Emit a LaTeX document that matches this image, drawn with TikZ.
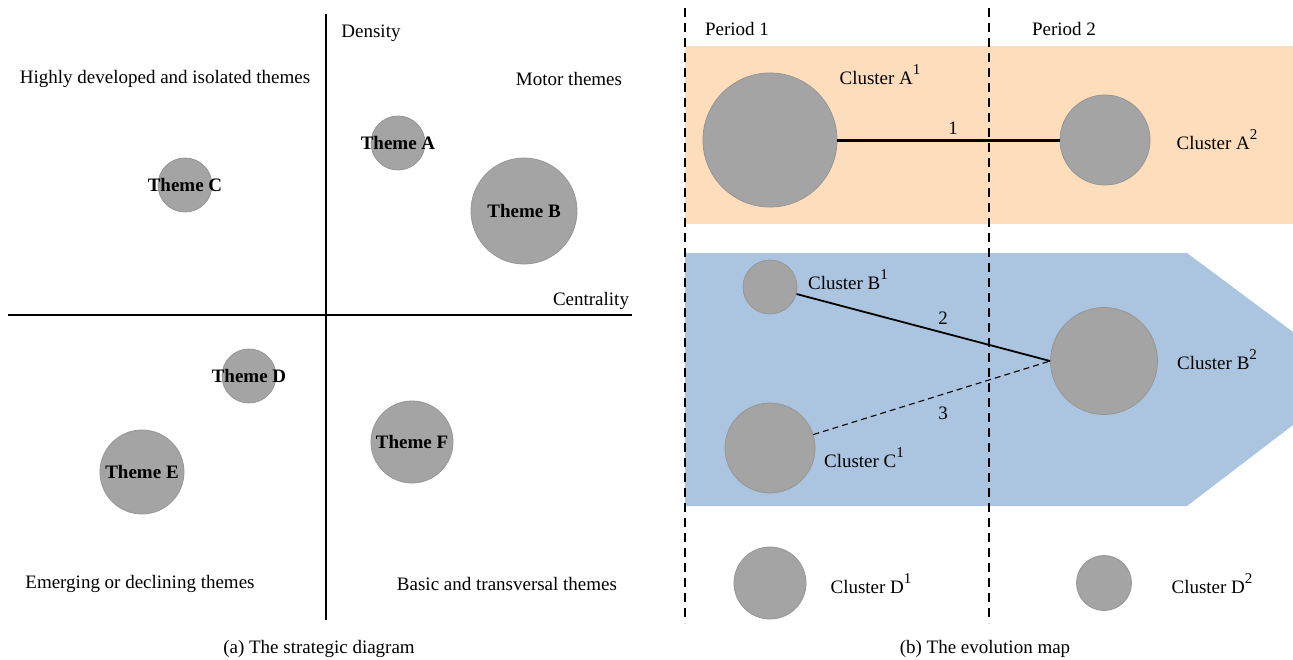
\documentclass[tikz,border=0pt]{standalone}
\usepackage{fontspec}
\setmainfont{Liberation Serif}
\definecolor{peach}{RGB}{253,221,188}
\definecolor{skyb}{RGB}{171,197,225}
\definecolor{bubble}{RGB}{164,164,164}
\definecolor{bubbleline}{RGB}{150,150,150}
\newcommand{\supnum}[1]{\raisebox{0.5em}{\fontsize{15}{15}\selectfont #1}}
\begin{document}
\begin{tikzpicture}[x=1pt,y=-1pt,
  txt/.style={inner sep=0pt,font=\fontsize{19}{22}\selectfont},
  btxt/.style={inner sep=0pt,font=\fontsize{19}{22}\selectfont\bfseries},
  bub/.style={circle,fill=bubble,draw=bubbleline,line width=0.8pt,inner sep=0pt,minimum size=#1},
  axis/.style={line width=1.8pt,black},
  period/.style={line width=1.8pt,dash pattern=on 9pt off 6pt}]
\useasboundingbox (0,0) rectangle (1293,659);
% ---------- (a) strategic diagram ----------
\coordinate (vtop) at (326,14);
\coordinate (vbot) at (326,620);
\coordinate (hl) at (8,315);
\coordinate (hr) at (632,315);
\draw[axis] (vtop) -- (vbot);
\draw[axis] (hl) -- (hr);
\node[txt] (density) at (371,33) {Density};
\node[txt] (centrality) at (591,301) {Centrality};
\node[txt] (q1) at (165,79) {Highly developed and isolated themes};
\node[txt] (q2) at (569,79) {Motor themes};
\node[txt] (q3) at (140,584) {Emerging or declining themes};
\node[txt] (q4) at (507,584) {Basic and transversal themes};
\node[bub=54pt] (tA) at (398,143) {};
\node[btxt] at (tA.center) {Theme A};
\node[bub=106pt] (tB) at (524,211) {};
\node[btxt] at (tB.center) {Theme B};
\node[bub=54pt] (tC) at (185,185) {};
\node[btxt] at (tC.center) {Theme C};
\node[bub=54pt] (tD) at (249,376) {};
\node[btxt] at (tD.center) {Theme D};
\node[bub=84pt] (tE) at (142,472) {};
\node[btxt] at (tE.center) {Theme E};
\node[bub=82pt] (tF) at (412,442) {};
\node[btxt] at (tF.center) {Theme F};
\node[txt] (capa) at (319,649) {(a) The strategic diagram};
% ---------- (b) evolution map ----------
\fill[peach] (685,46) rectangle (1293,224);
\fill[skyb] (685,253) -- (1187,253) -- (1293,332) -- (1293,425) -- (1187,506) -- (685,506) -- cycle;
\coordinate (p1top) at (685,8);
\coordinate (p1bot) at (685,623);
\coordinate (p2top) at (989,8);
\coordinate (p2bot) at (989,623);
\node[txt] (per1) at (737,29) {Period 1};
\node[txt] (per2) at (1064,29) {Period 2};
\node[bub=134pt] (A1) at (770,140) {};
\node[bub=90pt] (A2) at (1105,140) {};
\node[bub=54pt] (B1) at (770,287) {};
\node[bub=107pt] (B2) at (1104,361) {};
\node[bub=90pt] (C1) at (770,448) {};
\node[bub=72pt] (D1) at (770,583) {};
\node[bub=55pt] (D2) at (1104,583) {};
\draw[line width=3pt] (A1) -- (A2);
\draw[line width=1.8pt] (B1) -- (B2.west);
\draw[line width=1.1pt,dash pattern=on 6pt off 4pt] (C1) -- (B2.west);
\draw[period] (p1top) -- (p1bot);
\draw[period] (p2top) -- (p2bot);
\node[txt] (l1) at (953,128) {1};
\node[txt] (l2) at (943,318) {2};
\node[txt] (l3) at (943,413) {3};
\node[txt,anchor=base] (cA1) at (880,84) {Cluster A\supnum{1}};
\node[txt,anchor=base] (cA2) at (1217,149) {Cluster A\supnum{2}};
\node[txt,anchor=base] (cB1) at (848,289) {Cluster B\supnum{1}};
\node[txt,anchor=base] (cB2) at (1217,369) {Cluster B\supnum{2}};
\node[txt,anchor=base] (cC1) at (864,467) {Cluster C\supnum{1}};
\node[txt,anchor=base] (cD1) at (871,593) {Cluster D\supnum{1}};
\node[txt,anchor=base] (cD2) at (1212,593) {Cluster D\supnum{2}};
\node[txt] (capb) at (985,649) {(b) The evolution map};
\end{tikzpicture}
\end{document}
